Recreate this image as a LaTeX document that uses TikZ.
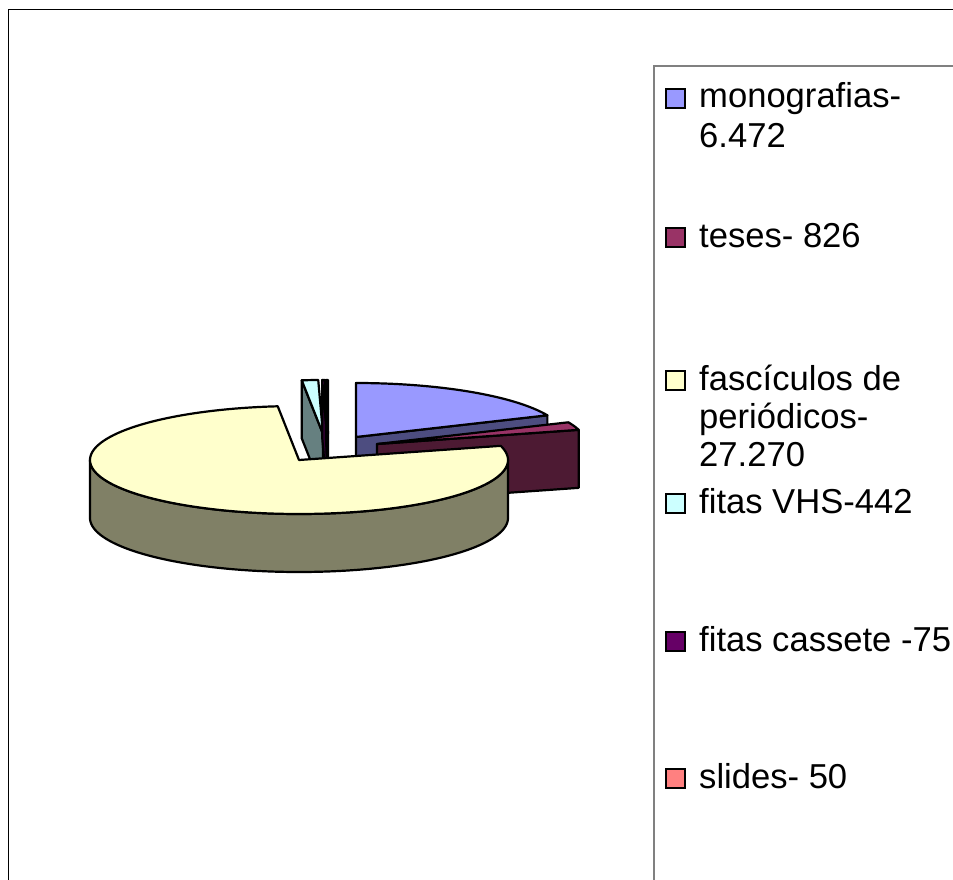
\documentclass[tikz,border=0pt]{standalone}
\usepackage{fontspec}
\setmainfont{Liberation Sans}
\definecolor{monotop}{HTML}{9999FF}
\definecolor{monoside}{HTML}{4D4D80}
\definecolor{tesestop}{HTML}{993366}
\definecolor{tesesside}{HTML}{4D1A33}
\definecolor{fasctop}{HTML}{FFFFCC}
\definecolor{fascside}{HTML}{808066}
\definecolor{vhstop}{HTML}{CCFFFF}
\definecolor{vhsside}{HTML}{668080}
\definecolor{casstop}{HTML}{660066}
\definecolor{cassside}{HTML}{330033}
\definecolor{slidetop}{HTML}{FF8080}
\definecolor{slideside}{HTML}{804040}
\definecolor{leggray}{HTML}{808080}
\tikzset{
  pieline/.style={draw=black, line width=2.2pt, line join=round},
  legsq/.style={draw=black, line width=1.4pt},
  legtext/.style={anchor=base west, inner sep=0pt, font=\fontsize{34.6}{40}\selectfont}
}
\begin{document}
\begin{tikzpicture}[x=1pt,y=-1pt]
\useasboundingbox (0,0) rectangle (953,880);
% outer chart frame
\draw[line width=1.3pt] (8.6,960) -- (8.6,9.6) -- (960,9.6);
% legend frame
\draw[leggray, line width=1.8pt] (654,890) -- (654,66) -- (960,66);

% ---- monografias (exploded) ----
\filldraw[pieline, fill=monoside] (356,437) -- ({356+209*cos(23.7)},{437-54*sin(23.7)}) -- ++(0,58) -- (356,495) -- cycle;
\filldraw[pieline, fill=monotop] (356,437) -- (356,383) -- plot[domain=90:23.7,samples=40] ({356+209*cos(\x)},{437-54*sin(\x)}) -- cycle;

% ---- fitas VHS ----
\filldraw[pieline, fill=vhsside] (323,434) -- ({323+209*cos(95.84)},{434-54*sin(95.84)}) -- ++(0,58) -- (323,492) -- cycle;
\filldraw[pieline, fill=vhstop] (323,434) -- plot[domain=95.84:91.31,samples=8] ({323+209*cos(\x)},{434-54*sin(\x)}) -- cycle;

% ---- fitas cassete ----
\filldraw[pieline, fill=cassside] (327,434) -- ({327+209*cos(91.31)},{434-54*sin(91.31)}) -- ++(0,58) -- (327,492) -- cycle;
\filldraw[pieline, fill=casstop] (327,434) -- plot[domain=91.31:90.54,samples=4] ({327+209*cos(\x)},{434-54*sin(\x)}) -- cycle;

% ---- slides ----
\filldraw[pieline, fill=slideside] (328,434) -- ({328+209*cos(90.54)},{434-54*sin(90.54)}) -- ++(0,58) -- (328,492) -- cycle;
\filldraw[pieline, fill=slidetop] (328,434) -- plot[domain=90.54:90,samples=4] ({328+209*cos(\x)},{434-54*sin(\x)}) -- cycle;

% ---- teses ----
\filldraw[pieline, fill=tesesside] (377,444) -- ({377+209*cos(15.2)},{444-54*sin(15.2)}) -- ++(0,58) -- (377,502) -- cycle;
\filldraw[pieline, fill=tesestop] (377,444) -- plot[domain=23.7:15.2,samples=8] ({377+209*cos(\x)},{444-54*sin(\x)}) -- cycle;

% ---- fasciculos de periodicos ----
\filldraw[pieline, fill=fascside] plot[domain=180:360,samples=120] ({299+209*cos(\x)},{460-54*sin(\x)}) -- plot[domain=360:180,samples=120] ({299+209*cos(\x)},{518-54*sin(\x)}) -- cycle;
\filldraw[pieline, fill=fasctop] (299,460) -- plot[domain=95.84:375.2,samples=160] ({299+209*cos(\x)},{460-54*sin(\x)}) -- cycle;

% ---- legend ----
\filldraw[legsq, fill=monotop] (666,89) rectangle (685,108);
\node[legtext] (lmonoA) at (699,108) {monografias-};
\node[legtext] (lmonoB) at (699,148) {6.472};

\filldraw[legsq, fill=tesestop] (666,228) rectangle (685,247);
\node[legtext] (lteses) at (699,247) {teses- 826};

\filldraw[legsq, fill=fasctop] (666,371) rectangle (685,390);
\node[legtext] (lfascA) at (699,390) {fascículos de};
\node[legtext] (lfascB) at (699,428) {periódicos-};
\node[legtext] (lfascC) at (699,466) {27.270};

\filldraw[legsq, fill=vhstop] (666,494) rectangle (685,513);
\node[legtext] (lvhs) at (699,513) {fitas VHS-442};

\filldraw[legsq, fill=casstop] (666,632) rectangle (685,651);
\node[legtext] (lcass) at (699,651) {fitas cassete -75};

\filldraw[legsq, fill=slidetop] (666,769) rectangle (685,788);
\node[legtext] (lslides) at (699,788) {slides- 50};
\end{tikzpicture}
\end{document}
